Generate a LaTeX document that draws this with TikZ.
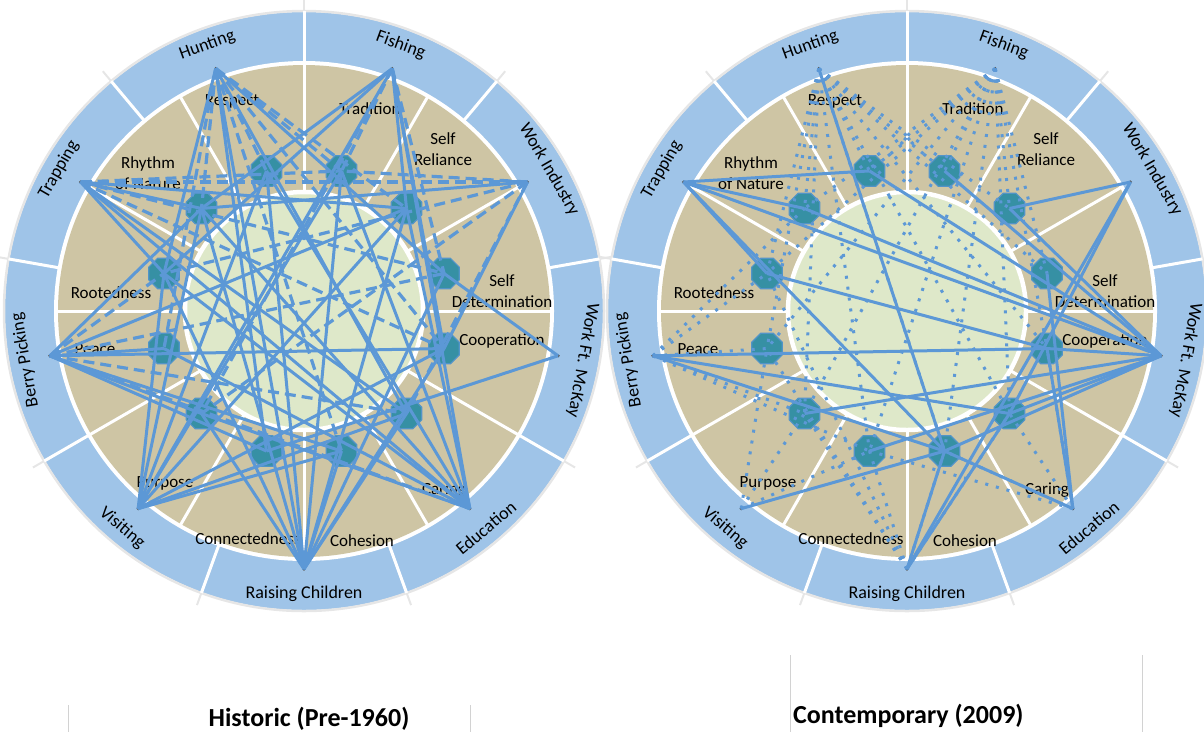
\documentclass[tikz,border=0pt]{standalone}
\usepackage{fontspec}
\setmainfont{Carlito}
\usetikzlibrary{shapes.geometric}

\definecolor{ringblue}{RGB}{159,196,232}
\definecolor{valuetan}{RGB}{206,197,164}
\definecolor{centregreen}{RGB}{222,232,201}
\definecolor{linkblue}{RGB}{92,152,214}
\definecolor{octteal}{RGB}{54,144,164}
\definecolor{octedge}{RGB}{82,148,200}
\definecolor{rimgray}{RGB}{230,230,230}

\tikzset{
  actlabel/.style={font=\fontsize{18}{20}\selectfont, inner sep=0pt},
  valuelabel/.style={font=\fontsize{17}{20.5}\selectfont, align=center, inner sep=0pt},
  valueoct/.style={regular polygon, regular polygon sides=8, minimum size=33pt, inner sep=0pt,
                   fill=octteal, draw=octedge, line width=1.2pt},
  actdot/.style={circle, inner sep=0pt, minimum size=3.5pt, fill=black!65},
  solidlink/.style={draw=linkblue, line width=3pt},
  dashlink/.style={draw=linkblue, line width=3.2pt, dash pattern=on 11pt off 6pt},
  dotlink/.style={draw=linkblue, line width=3pt, dash pattern=on 3pt off 8pt},
  titletext/.style={font=\fontsize{26}{30}\selectfont\bfseries, inner sep=0pt},
}

% one wheel: activities (outer ring), values (inner ring), octagons
\newcommand\valuewheel[1]{%
  \fill[ringblue] (0,0) circle (299pt);
  \draw[rimgray, line width=2.5pt] (0,0) circle (300pt);
  \fill[white] (0,0) circle (250pt);
  \fill[valuetan] (0,0) circle (246pt);
  \foreach \a in {10,50,...,330}{
    \draw[white, line width=3pt] (\a:248pt) -- (\a:300pt);
    \draw[rimgray, line width=2pt] (\a:301pt) -- (\a:313pt);
  }
  \foreach \a in {0,30,...,330}
    \draw[white, line width=3pt] (\a:118pt) -- (\a:247pt);
  \fill[centregreen] (0,0) circle (117pt);
  \draw[white, line width=4.5pt] (0,0) circle (119pt);
  \foreach \a/\n/\t in {110/hunt/Hunting, 70/fish/Fishing, 30/workind/Work Industry,
      350/ftmckay/Work Ft. McKay, 310/edu/Education, 270/kids/Raising Children,
      230/visit/Visiting, 190/berry/Berry Picking, 150/trap/Trapping}{
    \pgfmathsetmacro\rot{(\a>200 && \a<340) ? \a+90 : \a-90}
    \node[actlabel, rotate=\rot] (#1\n-lbl) at (\a:283pt) {\t};
    \node[actdot] (#1\n) at (\a:258pt) {};
  }
  \foreach \a/\n/\x/\y/\t in {105/respect/-72/-210/Respect, 75/tradition/66/-202/Tradition,
      45/selfrel/139/-162/{Self\\Reliance}, 15/selfdet/198/-20/{Self\\Determination},
      345/coop/198/30/Cooperation, 315/caring/140/179/Caring, 285/cohesion/58/230/Cohesion,
      255/connect/-56/228/Connectedness, 225/purpose/-139/172/Purpose, 195/peace/-209/38/Peace,
      165/root/-193/-18/Rootedness, 135/rhythm/-156/-138/{Rhythm\\of Nature}}{
    \node[valuelabel] (#1\n-lbl) at (\x,\y) {\t};
    \node[valueoct] (#1\n) at (\a:145pt) {};
  }
}

\begin{document}
\begin{tikzpicture}[x=1pt,y=-1pt]
  \useasboundingbox (0,0) rectangle (1204,732);

  % historic
  \begin{scope}[shift={(304,311)}]
    \valuewheel{L}
    \foreach \s/\t in {hunt/rhythm, hunt/respect, hunt/tradition, hunt/selfrel, hunt/coop,
        hunt/peace, hunt/cohesion, fish/tradition, fish/selfdet, fish/purpose,
        trap/tradition, trap/selfdet, trap/coop, trap/workind, workind/tradition,
        workind/caring, workind/purpose, workind/root, berry/root, berry/caring,
        berry/edu, berry/selfdet}
      \draw[dashlink] (L\s.center) -- (L\t.center);
    \foreach \s/\t in {hunt/root, hunt/selfdet, hunt/caring, hunt/connect,
        fish/rhythm, fish/visit, fish/selfrel, fish/coop, fish/edu, fish/root,
        trap/selfrel, trap/root, trap/caring, trap/rhythm, workind/rhythm, workind/coop,
        ftmckay/selfdet, ftmckay/connect,
        edu/rhythm, edu/root, edu/peace, edu/respect, edu/purpose, edu/tradition,
        edu/selfrel, edu/trap,
        kids/respect, kids/tradition, kids/rhythm, kids/root, kids/purpose, kids/cohesion,
        kids/caring, kids/coop, kids/selfrel, kids/selfdet, kids/hunt,
        visit/root, visit/rhythm, visit/respect, visit/tradition, visit/selfrel,
        visit/coop, visit/caring, visit/cohesion,
        berry/selfrel, berry/coop, berry/peace, berry/purpose, berry/connect,
        berry/cohesion, berry/rhythm}
      \draw[solidlink] (L\s.center) -- (L\t.center);
  \end{scope}

  % contemporary
  \begin{scope}[shift={(907,311)}]
    \valuewheel{R}
    \foreach \s in {hunt,fish}
      \foreach \t in {respect,tradition,selfrel,selfdet,coop,caring,cohesion,connect,
          purpose,peace,root,rhythm}
        \draw[dotlink] (R\s.center) -- (R\t.center);
    \foreach \s/\t in {berry/rhythm, berry/root, berry/peace, berry/purpose, berry/connect,
        kids/purpose, kids/connect, kids/cohesion, kids/caring, kids/peace, kids/root,
        edu/caring, edu/cohesion, edu/coop, edu/connect,
        visit/purpose, visit/connect, visit/peace}
      \draw[dotlink] (R\s.center) -- (R\t.center);
    \foreach \s/\t in {trap/respect, trap/rhythm, trap/root, trap/cohesion, trap/ftmckay,
        hunt/cohesion, rhythm/ftmckay, root/coop,
        respect/ftmckay, tradition/ftmckay, selfrel/ftmckay,
        workind/selfrel, workind/kids, workind/caring,
        selfdet/edu, coop/edu, coop/ftmckay,
        berry/coop, berry/cohesion, berry/caring,
        ftmckay/caring, ftmckay/cohesion, ftmckay/connect, ftmckay/purpose,
        visit/cohesion, cohesion/edu, kids/cohesion, kids/caring}
      \draw[solidlink] (R\s.center) -- (R\t.center);
  \end{scope}

  % captions
  \node[titletext] (histtitle) at (309,719) {Historic (Pre-1960)};
  \node[titletext, anchor=west] (conttitle) at (793,716) {Contemporary (2009)};
  \draw[gray!35] (68,705) -- (68,732);
  \draw[gray!35] (470,705) -- (470,732);
  \draw[gray!35] (790,655) -- (790,732);
  \draw[gray!35] (1142,655) -- (1142,732);
\end{tikzpicture}
\end{document}
